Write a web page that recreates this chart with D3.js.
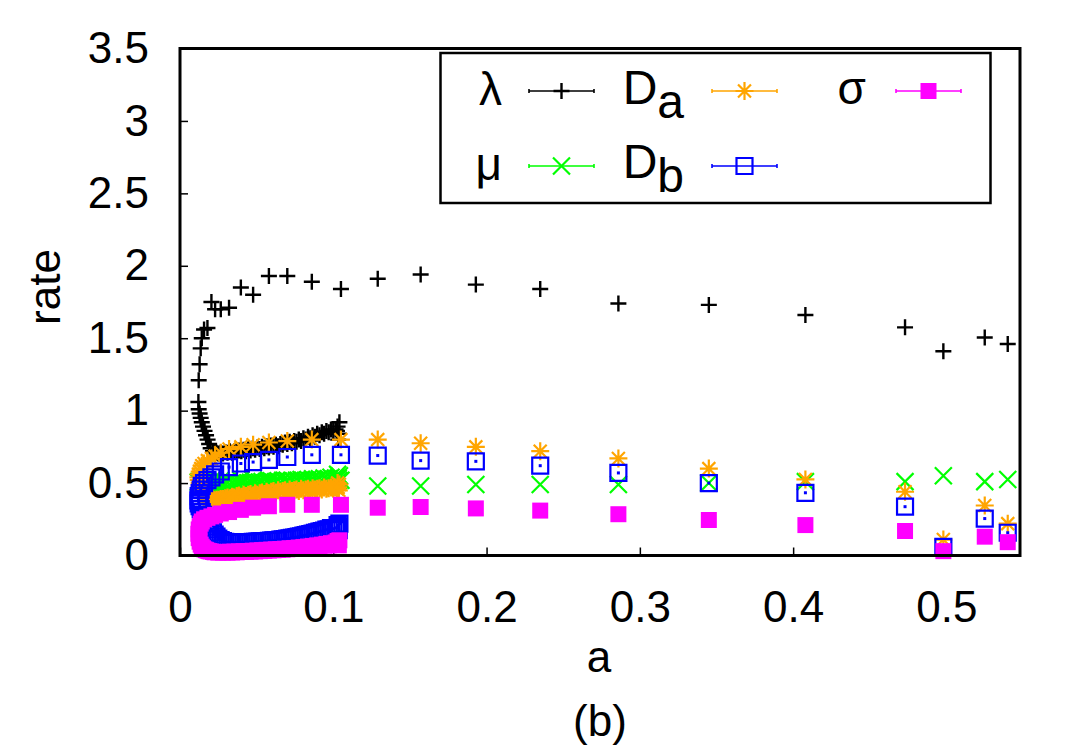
<!DOCTYPE html>
<html>
<head>
<meta charset="utf-8">
<script src="https://cdn.jsdelivr.net/npm/d3@7"></script>
<style>
  body { margin: 0; background: #fff; }
  svg { display: block; }
  text { font-family: "Liberation Sans", Arial, Helvetica, sans-serif; fill: #000; }
</style>
</head>
<body>
<svg width="1080" height="756"></svg>
<script>
// rates against a : one row per simulation point (path runs along the dense lower branch,
// turns near a = 0.012 and comes back along the upper branch)

var aVals = [
  // lower branch
  0.1040,0.1036,0.1032,0.1028,0.1024,
  0.1015,0.1000,0.0985,0.0970,0.0955,0.0940,0.0925,0.0910,0.0895,0.0880,
  0.0865,0.0850,0.0835,0.0820,0.0805,0.0790,0.0775,0.0760,0.0745,0.0730,
  0.0715,0.0700,0.0685,0.0670,0.0655,0.0640,0.0625,0.0610,0.0595,0.0580,
  0.0565,0.0550,0.0535,0.0520,0.0505,0.0490,0.0475,0.0460,0.0445,0.0430,
  0.0415,0.0400,0.0385,0.0370,0.0355,0.0340,0.0325,0.0310,0.0295,0.0280,
  0.0265,0.0250,0.0238,0.0226,0.0215,
  // turn
  0.0200,0.0190,0.0180,0.0170,0.0160,0.0150,0.0142,0.0135,0.0128,0.0122,0.0120,0.0122,0.0128,0.0135,0.0142,0.0157,0.0179,
  // upper branch
  0.0205,0.0229,0.0266,0.032,0.0397,0.0477,0.058,0.070,0.086,0.105,
  0.129,0.157,0.193,0.235,0.286,0.345,0.408,0.473,0.498,0.525,0.540
];

var lambdaVals = [
  0.92,0.84,0.80,0.89,0.86,
  0.87,0.86,0.87,0.85,0.86,0.84,0.85,0.83,0.84,0.82,
  0.83,0.81,0.82,0.80,0.81,0.79,0.80,0.785,0.79,0.775,
  0.785,0.77,0.78,0.765,0.77,0.755,0.765,0.75,0.76,0.745,
  0.755,0.74,0.75,0.735,0.745,0.73,0.74,0.725,0.735,0.72,
  0.73,0.72,0.725,0.715,0.72,0.71,0.72,0.71,0.715,0.705,
  0.71,0.705,0.71,0.715,0.72,
  0.74,0.77,0.80,0.83,0.86,0.89,0.92,0.95,0.98,1.01,1.06,1.21,1.32,1.43,1.50,1.56,1.57,
  1.75,1.70,1.70,1.71,1.85,1.80,1.93,1.93,1.89,1.84,
  1.91,1.94,1.87,1.84,1.74,1.73,1.66,1.575,1.41,1.505,1.46
];

var muVals = [
  0.55,0.52,0.535,0.56,0.53,
  0.535,0.525,0.54,0.53,0.525,0.535,0.52,0.53,0.525,0.52,
  0.53,0.515,0.525,0.52,0.515,0.525,0.515,0.52,0.51,0.52,
  0.51,0.515,0.51,0.52,0.505,0.515,0.51,0.505,0.515,0.505,
  0.51,0.50,0.51,0.505,0.50,0.51,0.50,0.505,0.50,0.495,
  0.505,0.50,0.495,0.50,0.495,0.50,0.49,0.50,0.495,0.49,
  0.495,0.49,0.495,0.49,0.495,
  0.495,0.495,0.495,0.50,0.50,0.50,0.50,0.50,0.505,0.505,0.505,0.51,0.51,0.51,0.51,0.51,0.515,
  0.515,0.515,0.52,0.52,0.52,0.52,0.52,0.52,0.52,0.52,
  0.48,0.48,0.49,0.49,0.49,0.50,0.51,0.51,0.55,0.51,0.524
];

var daVals = [
  0.49,0.45,0.47,0.50,0.46,
  0.47,0.46,0.47,0.465,0.46,0.47,0.455,0.465,0.46,0.455,
  0.465,0.45,0.46,0.455,0.45,0.46,0.445,0.455,0.45,0.445,
  0.455,0.44,0.45,0.445,0.44,0.45,0.435,0.445,0.44,0.43,
  0.44,0.425,0.435,0.43,0.42,0.43,0.415,0.425,0.42,0.41,
  0.42,0.405,0.415,0.41,0.40,0.405,0.395,0.40,0.395,0.39,
  0.39,0.385,0.385,0.38,0.38,
  0.385,0.39,0.40,0.41,0.42,0.44,0.46,0.48,0.50,0.52,0.54,0.56,0.58,0.60,0.62,0.635,0.655,
  0.67,0.685,0.71,0.735,0.75,0.765,0.78,0.79,0.80,0.80,
  0.80,0.775,0.75,0.72,0.67,0.60,0.525,0.44,0.11,0.345,0.22
];

var dbVals = [
  0.22,0.175,0.20,0.21,0.19,
  0.19,0.185,0.19,0.18,0.178,0.172,0.168,0.165,0.16,0.156,
  0.152,0.148,0.144,0.14,0.137,0.133,0.13,0.127,0.124,0.121,
  0.118,0.116,0.113,0.111,0.109,0.107,0.105,0.104,0.102,0.101,
  0.10,0.099,0.098,0.097,0.096,0.095,0.094,0.093,0.092,0.092,
  0.091,0.09,0.09,0.089,0.089,0.09,0.09,0.092,0.095,0.10,
  0.107,0.117,0.13,0.145,0.16,
  0.18,0.20,0.22,0.24,0.26,0.28,0.30,0.32,0.34,0.36,0.38,0.41,0.43,0.455,0.48,0.50,0.52,
  0.54,0.56,0.58,0.61,0.635,0.645,0.66,0.68,0.695,0.695,
  0.69,0.655,0.65,0.62,0.57,0.50,0.433,0.337,0.06,0.255,0.157
];

var sigmaVals = [
  0.105,0.07,0.09,0.10,0.08,
  0.09,0.075,0.085,0.07,0.08,0.068,0.075,0.063,0.07,0.06,
  0.066,0.056,0.062,0.053,0.058,0.05,0.055,0.048,0.052,0.045,
  0.05,0.043,0.047,0.04,0.045,0.038,0.043,0.036,0.041,0.034,
  0.039,0.032,0.037,0.03,0.035,0.028,0.033,0.027,0.031,0.025,
  0.03,0.024,0.028,0.022,0.027,0.021,0.026,0.02,0.025,0.02,
  0.024,0.02,0.024,0.022,0.025,
  0.028,0.030,0.033,0.037,0.042,0.05,0.06,0.075,0.095,0.12,0.15,0.18,0.20,0.22,0.235,0.25,0.26,
  0.27,0.28,0.29,0.30,0.315,0.33,0.34,0.35,0.35,0.35,
  0.33,0.335,0.325,0.31,0.285,0.245,0.21,0.169,0.03,0.13,0.092
];

var xTicks = [0, 0.1, 0.2, 0.3, 0.4, 0.5];
var xTickLabels = ["0", "0.1", "0.2", "0.3", "0.4", "0.5"];
var yTicks = [0, 0.5, 1, 1.5, 2, 2.5, 3, 3.5];
var yTickLabels = ["0", "0.5", "1", "1.5", "2", "2.5", "3", "3.5"];

var svg = d3.select("svg");
var plotLeft = 180, plotRight = 1020, plotTop = 48.5, plotBottom = 555.5;

var x = d3.scaleLinear().domain([0, 0.548]).range([plotLeft, plotRight]);
var y = d3.scaleLinear().domain([0, 3.5]).range([plotBottom, plotTop]);

// axes, ticks pointing inward
var xAxis = d3.axisBottom(x).tickValues(xTicks)
  .tickFormat(function(d, i) { return xTickLabels[i]; })
  .tickSize(-8).tickPadding(35);
var yAxis = d3.axisLeft(y).tickValues(yTicks)
  .tickFormat(function(d, i) { return yTickLabels[i]; })
  .tickSize(-8).tickPadding(31);

var gx = svg.append("g").attr("transform", "translate(0," + plotBottom + ")").call(xAxis);
var gy = svg.append("g").attr("transform", "translate(" + plotLeft + ",0)").call(yAxis);
[gx, gy].forEach(function(g) {
  g.select(".domain").remove();
  g.selectAll(".tick line").attr("stroke", "#000").attr("stroke-width", 1.5);
  g.selectAll(".tick text").attr("font-size", 44).attr("font-family", "Liberation Sans, Arial, sans-serif").attr("fill", "#000");
});

svg.append("text").attr("x", 599).attr("y", 672).attr("text-anchor", "middle")
  .attr("font-size", 44).text("a");
svg.append("text").attr("x", 600).attr("y", 736).attr("text-anchor", "middle")
  .attr("font-size", 44).text("(b)");
svg.append("text").attr("transform", "translate(60,287) rotate(-90)")
  .attr("text-anchor", "middle").attr("font-size", 44).text("rate");

// marker shapes
function plusPath(s) { return "M" + (-s) + ",0H" + s + "M0," + (-s) + "V" + s; }
function crossPath(s) { return "M" + (-s) + "," + (-s) + "L" + s + "," + s + "M" + (-s) + "," + s + "L" + s + "," + (-s); }
function starPath(s) { var d = s * 0.72; return plusPath(s) + crossPath(d); }
function sqPath(s) { return "M" + (-s) + "," + (-s) + "H" + s + "V" + s + "H" + (-s) + "Z"; }

var series = [
  { name: "lambda", vals: lambdaVals, color: "#000000", kind: "plus" },
  { name: "mu", vals: muVals, color: "#00ff00", kind: "cross" },
  { name: "Da", vals: daVals, color: "#ffa500", kind: "star" },
  { name: "Db", vals: dbVals, color: "#0000ff", kind: "box" },
  { name: "sigma", vals: sigmaVals, color: "#ff00ff", kind: "fbox" }
];

function drawMarker(g, kind, color) {
  if (kind === "plus") {
    g.append("path").attr("d", plusPath(8)).attr("stroke", color).attr("stroke-width", 2.4).attr("fill", "none");
  } else if (kind === "cross") {
    g.append("path").attr("d", crossPath(8.5)).attr("stroke", color).attr("stroke-width", 2.2).attr("fill", "none");
  } else if (kind === "star") {
    g.append("path").attr("d", starPath(9)).attr("stroke", color).attr("stroke-width", 2.2).attr("fill", "none");
  } else if (kind === "box") {
    g.append("path").attr("d", sqPath(8)).attr("stroke", color).attr("stroke-width", 2.2).attr("fill", "none");
  } else if (kind === "fbox") {
    g.append("path").attr("d", sqPath(8)).attr("fill", color);
  }
}

var plotG = svg.append("g");
series.forEach(function(s) {
  var pts = plotG.append("g").selectAll("g")
    .data(aVals.map(function(a, i) { return [a, s.vals[i]]; }))
    .enter().append("g")
    .attr("transform", function(d) { return "translate(" + x(d[0]) + "," + y(d[1]) + ")"; });
  pts.each(function() {
    var g = d3.select(this);
    drawMarker(g, s.kind, s.color);
    if (s.kind === "box") g.append("rect").attr("x", -1.5).attr("y", -1.5).attr("width", 3).attr("height", 3).attr("fill", s.color);
  });
});

// frame
svg.append("rect").attr("x", plotLeft).attr("y", plotTop).attr("width", plotRight - plotLeft).attr("height", plotBottom - plotTop)
  .attr("fill", "none").attr("stroke", "#000").attr("stroke-width", 3);

// key
var key = svg.append("g");
key.append("rect").attr("x", 440.5).attr("y", 53).attr("width", 550).attr("height", 150)
  .attr("fill", "#fff").attr("stroke", "#000").attr("stroke-width", 2.5);

var keyItems = [
  { label: "λ", sub: null, tx: 502, ty: 105, lx: 529, ly: 91, s: series[0] },
  { label: "μ", sub: null, tx: 502, ty: 180, lx: 529, ly: 166, s: series[1] },
  { label: "D", sub: "a", tx: 684, ty: 104, lx: 712, ly: 91, s: series[2] },
  { label: "D", sub: "b", tx: 684, ty: 178, lx: 712, ly: 166, s: series[3] },
  { label: "σ", sub: null, tx: 866, ty: 104, lx: 896, ly: 91, s: series[4] }
];
keyItems.forEach(function(k) {
  var t = key.append("text").attr("x", k.tx).attr("y", k.ty).attr("text-anchor", "end").attr("font-size", 48);
  if (k.sub) {
    t.append("tspan").text(k.label);
    t.append("tspan").attr("dy", 14).text(k.sub);
  } else {
    t.attr("font-family", "DejaVu Sans, sans-serif").attr("font-size", 46).text(k.label);
  }
  var w = 65;
  key.append("path")
    .attr("d", "M" + k.lx + "," + k.ly + "H" + (k.lx + w) + "M" + k.lx + "," + (k.ly - 2) + "V" + (k.ly + 2) +
      "M" + (k.lx + w) + "," + (k.ly - 2) + "V" + (k.ly + 2))
    .attr("stroke", k.s.color).attr("stroke-width", 1.6).attr("fill", "none");
  var m = key.append("g").attr("transform", "translate(" + (k.lx + w / 2) + "," + k.ly + ")");
  drawMarker(m, k.s.kind, k.s.color);
});
</script>
</body>
</html>
